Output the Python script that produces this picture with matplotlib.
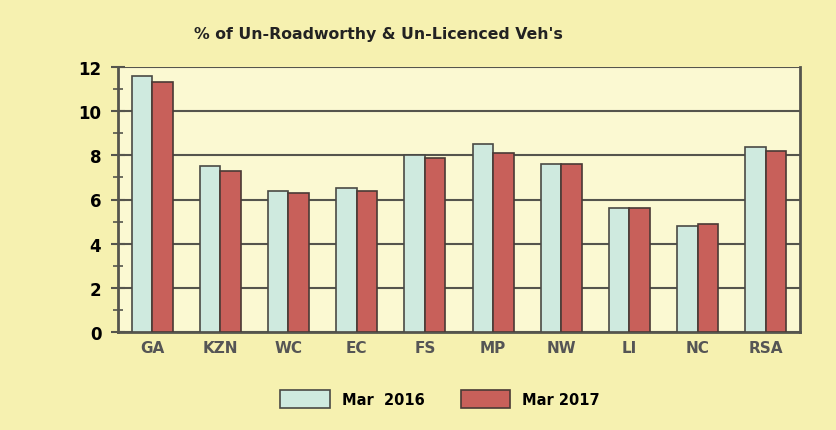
import matplotlib
matplotlib.use("Agg")
import matplotlib.pyplot as plt
import numpy as np
from matplotlib.ticker import MultipleLocator

regioes = ["GA", "KZN", "WC", "EC", "FS", "MP", "NW", "LI", "NC", "RSA"]
mar2016 = [11.6, 7.5, 6.4, 6.5, 8.0, 8.5, 7.6, 5.6, 4.8, 8.4]
mar2017 = [11.3, 7.3, 6.3, 6.4, 7.9, 8.1, 7.6, 5.6, 4.9, 8.2]

fig = plt.figure(figsize=(8.37, 4.31), dpi=100)
fig.patch.set_facecolor("#f6f1b0")
ax = fig.add_axes([118/837, 1-333/431, 682/837, 265/431])
ax.set_facecolor("#fbf9d2")

x = np.arange(len(regioes))
w = 0.3
ax.bar(x - w/2, mar2016, w, color="#cfeadf", edgecolor="#4a4a45", linewidth=1.2,
       label="Mar  2016", zorder=3)
ax.bar(x + w/2, mar2017, w, color="#c8605a", edgecolor="#4a3a35", linewidth=1.2,
       label="Mar 2017", zorder=3)

ax.set_xlim(-0.5, len(regioes) - 0.5)
ax.set_ylim(0, 12)
ax.yaxis.set_major_locator(MultipleLocator(2))
ax.yaxis.set_minor_locator(MultipleLocator(1))
ax.grid(axis="y", color="#55554d", linewidth=1.5, zorder=0)
ax.set_xticks(x)
ax.set_xticklabels(regioes, fontsize=11, fontweight="bold", color="#555555")
ax.tick_params(axis="x", length=0, pad=6)
ax.tick_params(axis="y", which="major", direction="inout", length=10, width=1.5,
               color="#55554d", labelsize=12, pad=7)
ax.tick_params(axis="y", which="minor", direction="inout", length=7, width=1.2,
               color="#55554d")
for lbl in ax.get_yticklabels():
    lbl.set_fontweight("bold")
for s in ax.spines.values():
    s.set_color("#55554d")
    s.set_linewidth(2)
ax.spines["top"].set_visible(False)

fig.text(378/837, 1-35/431, "% of Un-Roadworthy & Un-Licenced Veh's", ha="center",
         va="center", fontsize=11.3, fontweight="bold", color="#222222")

leg = fig.legend(loc="center", bbox_to_anchor=(440/837, 1-400/431), ncol=2,
                 frameon=False, handlelength=3.4, handleheight=1.6,
                 columnspacing=2.5, prop={"weight": "bold", "size": 10.5})

fig.savefig("out.png", dpi=100, facecolor=fig.get_facecolor())
